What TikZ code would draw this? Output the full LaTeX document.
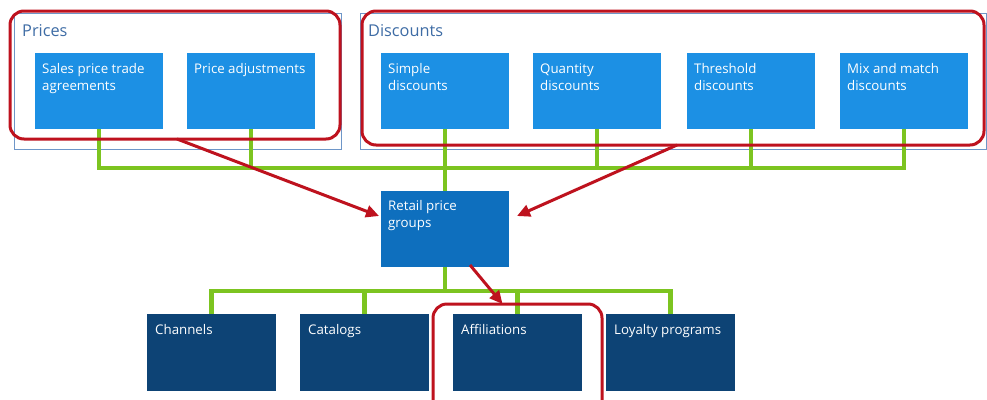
\documentclass[tikz,border=0pt]{standalone}
\usepackage{fontspec}
\setmainfont{Open Sans}
\usetikzlibrary{arrows.meta}
\definecolor{topblue}{RGB}{28,144,228}
\definecolor{midblue}{RGB}{14,111,190}
\definecolor{navy}{RGB}{13,67,117}
\definecolor{busgreen}{RGB}{124,196,32}
\definecolor{markred}{RGB}{190,18,30}
\definecolor{framecol}{RGB}{110,150,200}
\definecolor{labelcol}{RGB}{62,108,165}
\begin{document}
\begin{tikzpicture}[x=1pt,y=-1pt,
  box/.style={minimum width=128pt, minimum height=76pt, inner sep=0pt, outer sep=0pt, anchor=north west},
  topbox/.style={box, fill=topblue},
  retbox/.style={box, fill=midblue},
  botbox/.style={box, fill=navy, minimum width=129pt, minimum height=77pt},
  txt/.style={anchor=base west, inner sep=0pt, text=white, font=\fontsize{13.3}{17}\selectfont, align=left},
  framebox/.style={draw=framecol, line width=1pt, inner sep=0pt, outer sep=0pt, anchor=north west},
  flabel/.style={anchor=base west, inner sep=0pt, text=labelcol, font=\fontsize{16.3}{18}\selectfont},
  gline/.style={draw=busgreen, line width=4.5pt, line join=miter},
  redbox/.style={draw=markred, line width=3pt, rounded corners=14pt, inner sep=0pt, outer sep=0pt, anchor=north west},
  rarrow/.style={draw=markred, line width=3pt, -{Triangle[length=13pt,width=12pt]}}
]
\useasboundingbox (0,0) rectangle (987,399);
\clip (0,0) rectangle (987,399);
\fill[white] (0,0) rectangle (987,399);

% frames
\node[framebox, minimum width=327pt, minimum height=136pt] (pricesF) at (14,13) {};
\node[flabel] (pricesL) at ([shift={(8,23)}]pricesF.north west) {Prices};
\node[framebox, minimum width=626pt, minimum height=136pt] (discF) at (360,13) {};
\node[flabel] (discL) at ([shift={(8,23)}]discF.north west) {Discounts};

% boxes (positions)
\node[topbox] (sales) at (35,53) {};
\node[topbox] (padj) at (187,53) {};
\node[topbox] (simple) at (381,53) {};
\node[topbox] (qty) at (533,53) {};
\node[topbox] (thr) at (687,53) {};
\node[topbox] (mix) at (840,53) {};
\node[retbox] (ret) at (381,191) {};
\node[botbox] (chan) at (147,314) {};
\node[botbox] (cat) at (300,314) {};
\node[botbox] (aff) at (453,314) {};
\node[botbox] (loy) at (606,314) {};

% green connectors
\coordinate (busA) at (0,168);
\coordinate (busB) at (0,291);
\foreach \n in {sales,padj,simple,qty,thr,mix}{
  \draw[gline] (\n.south) -- (\n.south |- busA) -- (ret.north |- busA) -- (ret.north);
}
\foreach \n in {chan,cat,aff,loy}{
  \draw[gline] (ret.south) -- (ret.south |- busB) -- (\n.north |- busB) -- (\n.north);
}

% redraw boxes on top of lines
\node[topbox] at (sales.north west) {};
\node[topbox] at (padj.north west) {};
\node[topbox] at (simple.north west) {};
\node[topbox] at (qty.north west) {};
\node[topbox] at (thr.north west) {};
\node[topbox] at (mix.north west) {};
\node[retbox] at (ret.north west) {};
\node[botbox] at (chan.north west) {};
\node[botbox] at (cat.north west) {};
\node[botbox] at (aff.north west) {};
\node[botbox] at (loy.north west) {};

% texts (base anchor = baseline of last line)
\node[txt] (salesT) at ([shift={(7,37)}]sales.north west) {Sales price trade\\agreements};
\node[txt] (padjT) at ([shift={(7,20)}]padj.north west) {Price adjustments};
\node[txt] (simpleT) at ([shift={(7,37)}]simple.north west) {Simple\\discounts};
\node[txt] (qtyT) at ([shift={(7,37)}]qty.north west) {Quantity\\discounts};
\node[txt] (thrT) at ([shift={(7,37)}]thr.north west) {Threshold\\discounts};
\node[txt] (mixT) at ([shift={(7,37)}]mix.north west) {Mix and match\\discounts};
\node[txt] (retT) at ([shift={(7,36)}]ret.north west) {Retail price\\groups};
\node[txt] (chanT) at ([shift={(8,20)}]chan.north west) {Channels};
\node[txt] (catT) at ([shift={(8,20)}]cat.north west) {Catalogs};
\node[txt] (affT) at ([shift={(8,20)}]aff.north west) {Affiliations};
\node[txt] (loyT) at ([shift={(8,20)}]loy.north west) {Loyalty programs};

% red highlights
\node[redbox, minimum width=330pt, minimum height=128pt] (pricesRed) at (10,11) {};
\node[redbox, minimum width=622pt, minimum height=134pt] (discRed) at (362,11) {};
\node[redbox, minimum width=169pt, minimum height=111pt] (affRed) at (433,304) {};

\draw[rarrow] ([xshift=2pt]pricesRed.south) -- ([shift={(-2,-13)}]ret.west);
\draw[rarrow] ([xshift=4pt]discRed.south) -- ([shift={(8,-13)}]ret.east);
\draw[rarrow] ([shift={(25,-2)}]ret.south) -- ([xshift=-15pt]affRed.north);
\end{tikzpicture}
\end{document}
